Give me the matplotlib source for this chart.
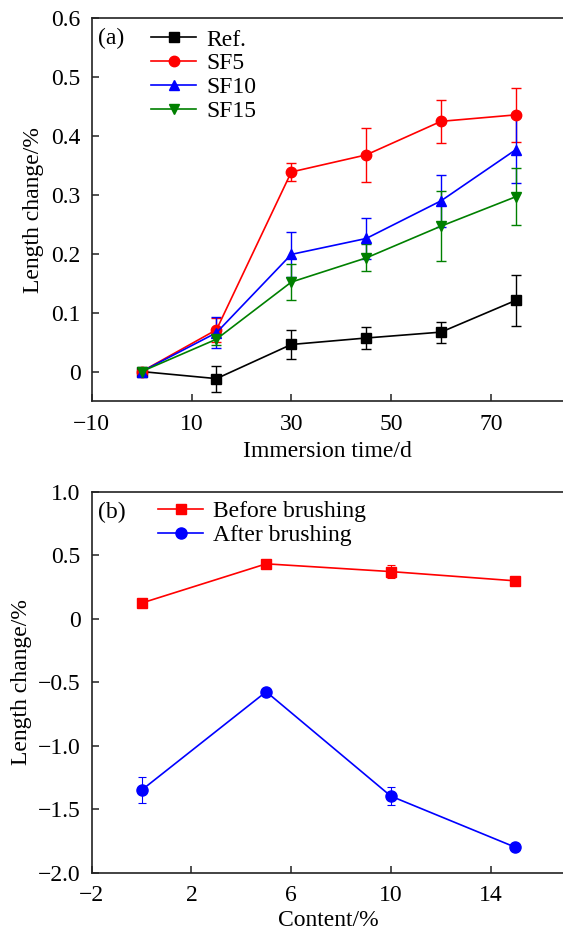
import matplotlib
matplotlib.use("Agg")
import matplotlib.pyplot as plt
from matplotlib.lines import Line2D

plt.rcParams['font.family'] = ['Liberation Serif', 'DejaVu Serif']

# ---- Panel (a) data ----
time_d = [0, 15, 30, 45, 60, 75]
ref_vals = [0.0, -0.012, 0.046, 0.057, 0.067, 0.121]
ref_err = [0.0, 0.022, 0.024, 0.019, 0.018, 0.043]
sf5_vals = [0.0, 0.071, 0.339, 0.368, 0.425, 0.436]
sf5_err = [0.0, 0.02, 0.015, 0.046, 0.036, 0.046]
sf10_vals = [0.0, 0.066, 0.199, 0.226, 0.290, 0.377]
sf10_err = [0.0, 0.026, 0.038, 0.034, 0.044, 0.056]
sf15_vals = [0.0, 0.055, 0.152, 0.193, 0.247, 0.297]
sf15_err = [0.0, 0.01, 0.031, 0.023, 0.059, 0.048]
labels_a = ["Ref.", "SF5", "SF10", "SF15"]
xticks_a = [-10, 10, 30, 50, 70]
xticklabels_a = ["\u221210", "10", "30", "50", "70"]
yticks_a = [0, 0.1, 0.2, 0.3, 0.4, 0.5, 0.6]
yticklabels_a = ["0", "0.1", "0.2", "0.3", "0.4", "0.5", "0.6"]

# ---- Panel (b) data ----
content = [0, 5, 10, 15]
before_vals = [0.123, 0.432, 0.371, 0.298]
before_err = [0.02, 0.03, 0.05, 0.03]
after_vals = [-1.35, -0.575, -1.397, -1.80]
after_err = [0.10, 0.02, 0.07, 0.02]
labels_b = ["Before brushing", "After brushing"]
xticks_b = [-2, 2, 6, 10, 14]
xticklabels_b = ["\u22122", "2", "6", "10", "14"]
yticks_b = [-2.0, -1.5, -1.0, -0.5, 0, 0.5, 1.0]
yticklabels_b = ["\u22122.0", "\u22121.5", "\u22121.0", "\u22120.5", "0", "0.5", "1.0"]

W, H = 563, 931
fig = plt.figure(figsize=(W / 100, H / 100), dpi=100)

left = 91.7 / W
width = 1.0 - left + 0.002
ax1 = fig.add_axes([left, 1 - 401 / H, width, (401 - 18.3) / H])
ax2 = fig.add_axes([left, 1 - 872.7 / H, width, (872.7 - 491.7) / H])

FS = 17
spine_col = '#222222'

def style(ax):
    for s in ['left', 'bottom', 'top']:
        ax.spines[s].set_linewidth(1.2)
        ax.spines[s].set_color(spine_col)
    ax.spines['right'].set_visible(False)
    ax.tick_params(direction='in', length=5, width=1.1, colors=spine_col,
                   labelsize=FS, labelcolor='black', top=False, right=False)
    ax.tick_params(axis='x', pad=9)
    ax.tick_params(axis='y', pad=8)

ms = 7.5
series_a = [
    (ref_vals, ref_err, 'black', 's', ms - 0.5),
    (sf5_vals, sf5_err, '#ff0000', 'o', ms),
    (sf10_vals, sf10_err, '#0000ff', '^', ms),
    (sf15_vals, sf15_err, '#008000', 'v', ms),
]
handles_a = []
for (vals, err, col, mk, m), lab in zip(series_a, labels_a):
    ax1.errorbar(time_d, vals, yerr=err, color=col, marker=mk, markersize=m,
                 linewidth=1.2, elinewidth=1.0, capsize=3.5, capthick=1.0)
    handles_a.append(Line2D([], [], color=col, marker=mk, markersize=m,
                            linewidth=1.2, label=lab))

ax1.set_xlim(-10, -10 + (W - 91.7) / 5.0 + 0.4)
ax1.set_ylim(-0.05, 0.6)
ax1.set_xticks(xticks_a)
ax1.set_xticklabels(xticklabels_a)
ax1.set_yticks(yticks_a)
ax1.set_yticklabels(yticklabels_a)
ax1.set_xlabel("Immersion time/d", fontsize=FS, labelpad=5)
ax1.set_ylabel("Length change/%", fontsize=FS, labelpad=5.5)
style(ax1)
ax1.text(0.013, (401 - 38) / 382.7, "(a)", transform=ax1.transAxes, fontsize=FS,
         ha='left', va='center')
ax1.legend(handles=handles_a, loc='upper left', bbox_to_anchor=(0.126, 0.972),
           frameon=False, fontsize=FS, handlelength=1.9, handletextpad=0.42,
           labelspacing=0.1, borderaxespad=0.0, borderpad=0.0)

series_b = [
    (before_vals, before_err, '#ff0000', 's', ms - 0.5),
    (after_vals, after_err, '#0000ff', 'o', ms + 0.5),
]
handles_b = []
for (vals, err, col, mk, m), lab in zip(series_b, labels_b):
    ax2.errorbar(content, vals, yerr=err, color=col, marker=mk, markersize=m,
                 linewidth=1.2, elinewidth=0.8, capsize=3.0, capthick=0.8,
                 ecolor=col)
    handles_b.append(Line2D([], [], color=col, marker=mk, markersize=m,
                            linewidth=1.2, label=lab))

ax2.set_xlim(-2, -2 + (W - 91.7) / 25.0 + 0.1)
ax2.set_ylim(-2.0, 1.0)
ax2.set_xticks(xticks_b)
ax2.set_xticklabels(xticklabels_b)
ax2.set_yticks(yticks_b)
ax2.set_yticklabels(yticklabels_b)
ax2.set_xlabel("Content/%", fontsize=FS, labelpad=2.5)
ax2.set_ylabel("Length change/%", fontsize=FS, labelpad=4)
style(ax2)
ax2.text(0.013, (872.7 - 512) / 381, "(b)", transform=ax2.transAxes, fontsize=FS,
         ha='left', va='center')
ax2.legend(handles=handles_b, loc='upper left', bbox_to_anchor=(0.141, 0.977),
           frameon=False, fontsize=FS, handlelength=1.9, handletextpad=0.42,
           labelspacing=0.1, borderaxespad=0.0, borderpad=0.0)

fig.savefig("out.png", dpi=100)
